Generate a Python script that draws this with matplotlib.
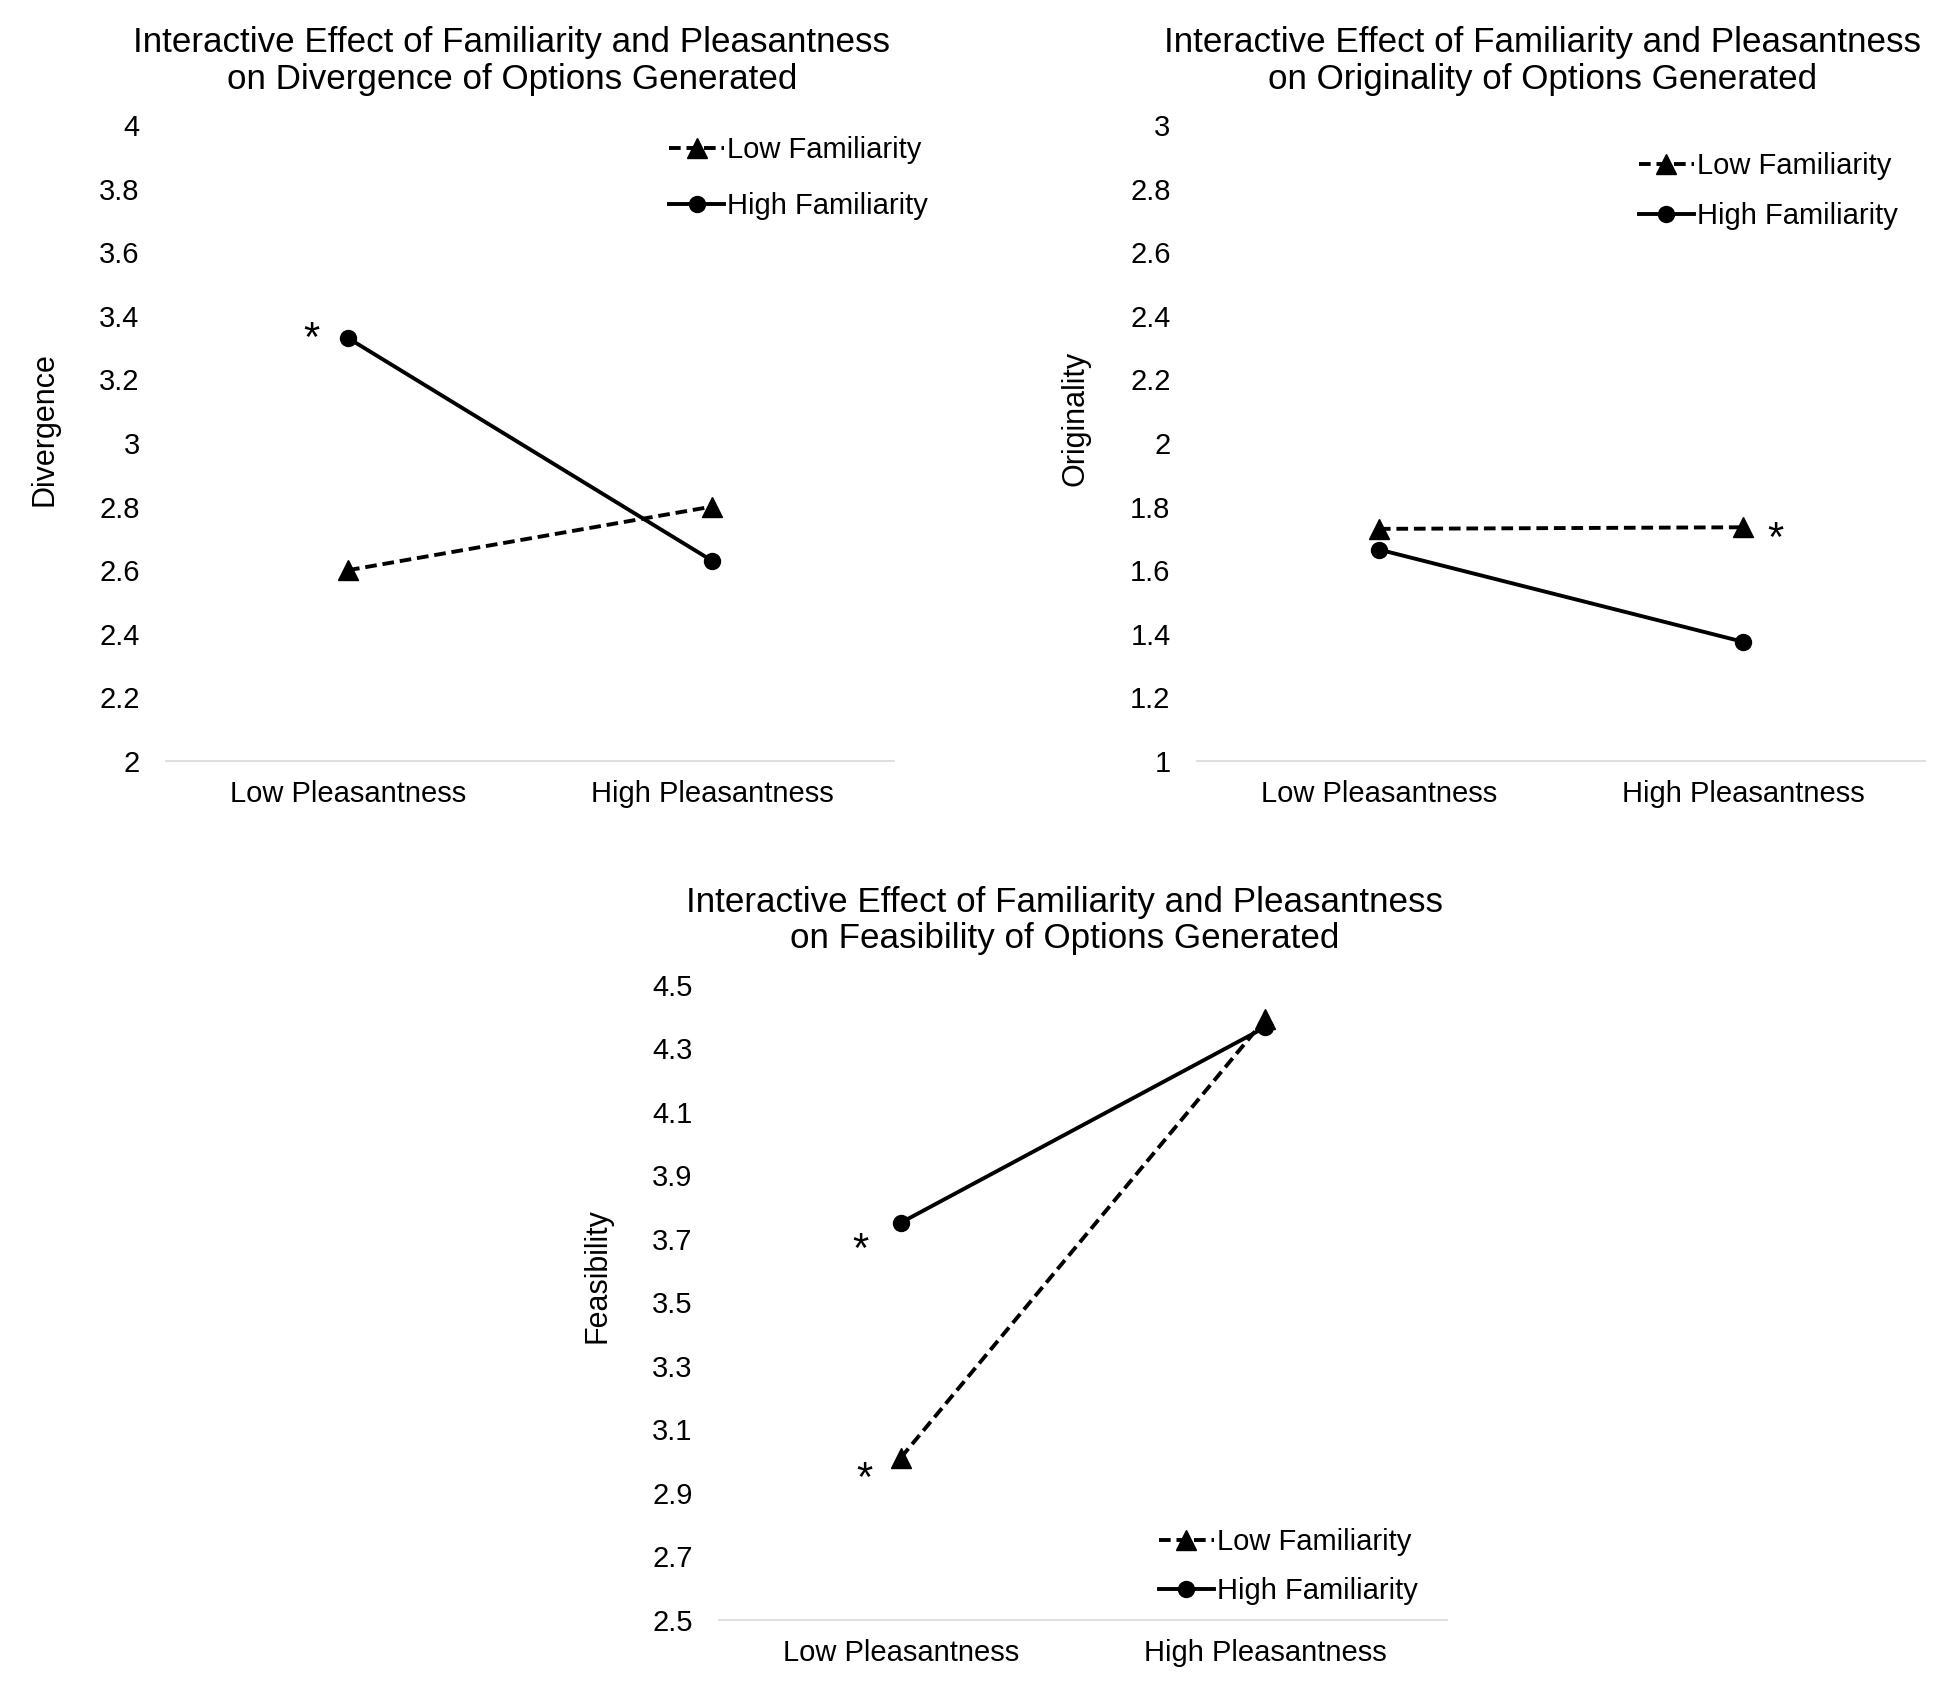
import matplotlib.pyplot as plt
import numpy as np

plt.rcParams['font.family'] = ['Liberation Sans', 'DejaVu Sans']
plt.rcParams['font.size'] = 21

# data
categories = ['Low Pleasantness', 'High Pleasantness']
series = ['Low Familiarity', 'High Familiarity']

divergence_low = [2.60, 2.80]
divergence_high = [3.33, 2.63]
originality_low = [1.73, 1.735]
originality_high = [1.665, 1.375]
feasibility_low = [3.01, 4.39]
feasibility_high = [3.75, 4.365]

div_ticks = [2, 2.2, 2.4, 2.6, 2.8, 3, 3.2, 3.4, 3.6, 3.8, 4]
orig_ticks = [1, 1.2, 1.4, 1.6, 1.8, 2, 2.2, 2.4, 2.6, 2.8, 3]
feas_ticks = [2.5, 2.7, 2.9, 3.1, 3.3, 3.5, 3.7, 3.9, 4.1, 4.3, 4.5]

# asterisks (x in category units, y in data units)
div_stars = [(-0.10, 3.325)]
orig_stars = [(1.09, 1.695)]
feas_stars = [(-0.11, 3.66), (-0.10, 2.94)]

fig = plt.figure(figsize=(19.51, 16.87), dpi=100)
x = np.arange(len(categories))


def panel(rect, low, high, ticks, ylabel, title, stars, leg_anchor, lab_y, spacing):
    ax = fig.add_axes(rect)
    ax.plot(x, low, color='black', lw=2.8, ls=(0, (3.0, 1.5)), marker='^',
            markersize=14, label=series[0])
    ax.plot(x, high, color='black', lw=2.8, ls='-', marker='o',
            markersize=11.5, label=series[1])
    ax.set_xlim(-0.5, 1.5)
    ax.set_ylim(ticks[0], ticks[-1])
    ax.set_yticks(ticks)
    ax.set_yticklabels(['{:g}'.format(t) for t in ticks])
    ax.set_xticks(x)
    ax.set_xticklabels(categories)
    ax.tick_params(axis='y', length=0, pad=19)
    ax.tick_params(axis='x', length=0, pad=14)
    for s in ['top', 'right', 'left']:
        ax.spines[s].set_visible(False)
    ax.spines['bottom'].set_color('#d9d9d9')
    ax.spines['bottom'].set_linewidth(1.2)
    ax.set_ylabel(ylabel, fontsize=22)
    ax.yaxis.set_label_coords(-0.146, lab_y)
    ax.set_title(title, x=0.475, pad=26, linespacing=1.15)
    for sx, sy in stars:
        ax.text(sx, sy, '*', ha='center', va='center', fontsize=30)
    ax.legend(loc='upper left', bbox_to_anchor=leg_anchor, frameon=False,
              borderpad=0, borderaxespad=0, handlelength=1.9,
              handletextpad=0.1, labelspacing=spacing)
    return ax


panel([0.0851, 0.5489, 0.3731, 0.377], divergence_low, divergence_high,
      div_ticks, 'Divergence',
      'Interactive Effect of Familiarity and Pleasantness\non Divergence of Options Generated',
      div_stars, (0.691, 0.982), 0.522, 0.95)

panel([0.6135, 0.5489, 0.3731, 0.377], originality_low, originality_high,
      orig_ticks, 'Originality',
      'Interactive Effect of Familiarity and Pleasantness\non Originality of Options Generated',
      orig_stars, (0.607, 0.958), 0.538, 0.78)

panel([0.3685, 0.0400, 0.3731, 0.3764], feasibility_low, feasibility_high,
      feas_ticks, 'Feasibility',
      'Interactive Effect of Familiarity and Pleasantness\non Feasibility of Options Generated',
      feas_stars, (0.604, 0.144), 0.542, 0.72)

plt.savefig('out.png', dpi=100)
